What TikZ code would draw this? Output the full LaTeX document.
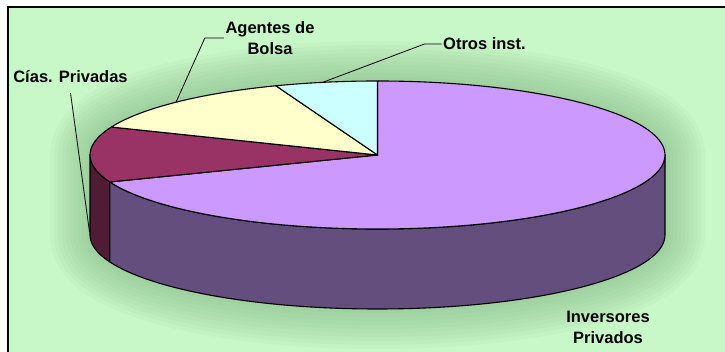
\documentclass[tikz,border=0pt]{standalone}
\usepackage{fontspec}
\setmainfont{Liberation Sans}
\usetikzlibrary{calc}
\definecolor{bg}{HTML}{C8F8C8}
\definecolor{shadowc}{HTML}{7FB07F}
\definecolor{purpletop}{HTML}{CC99FF}
\definecolor{purpleside}{HTML}{634E7E}
\definecolor{maroontop}{HTML}{993366}
\definecolor{maroonside}{HTML}{4F1B35}
\definecolor{yellowtop}{HTML}{FFFFCC}
\definecolor{cyantop}{HTML}{CCFFFF}
\begin{document}
\begin{tikzpicture}[x=1pt,y=1pt,
  lbl/.style={font=\bfseries\fontsize{16.5}{21.5}\selectfont, align=center, inner sep=1.5pt},
  lead/.style={draw=black, line width=0.8pt},
  pieedge/.style={draw=black, line width=1.1pt, line join=round},
  ell/.style={x radius=287.5, y radius=74}]
\useasboundingbox (0,0) rectangle (725,352);
\fill[white] (0,0) rectangle (725,352);
\fill[bg] (8,0) rectangle (725,345);
\draw[line width=1.4pt] (8,0) -- (8,345) -- (725,345);
\coordinate (C) at (377.5,197);
% soft shadow
\begin{scope}
\clip (8,0) rectangle (725,345);
\foreach \w in {80,72,...,8}
  \draw[shadowc, opacity=0.065, line width=\w pt, line join=round, fill=shadowc]
    ([shift={(0:287.5 and 74)}]C) arc[start angle=0,end angle=180,ell]
    -- ++(0,-80) arc[start angle=180,end angle=360,ell] -- cycle;
\end{scope}
% side faces
\path[pieedge, fill=maroonside] ([shift={(180:287.5 and 74)}]C)
  arc[start angle=180,end angle=201.4,ell] -- ++(0,-80)
  arc[start angle=201.4,end angle=180,ell] -- cycle;
\path[pieedge, fill=purpleside] ([shift={(201.4:287.5 and 74)}]C)
  arc[start angle=201.4,end angle=360,ell] -- ++(0,-80)
  arc[start angle=360,end angle=201.4,ell] -- cycle;
% top faces
\path[pieedge, fill=purpletop] (C) -- ([shift={(90:287.5 and 74)}]C)
  arc[start angle=90,end angle=-158.6,ell] -- cycle;
\path[pieedge, fill=maroontop] (C) -- ([shift={(157.8:287.5 and 74)}]C)
  arc[start angle=157.8,end angle=201.4,ell] -- cycle;
\path[pieedge, fill=yellowtop] (C) -- ([shift={(110.7:287.5 and 74)}]C)
  arc[start angle=110.7,end angle=157.8,ell] -- cycle;
\path[pieedge, fill=cyantop] (C) -- ([shift={(90:287.5 and 74)}]C)
  arc[start angle=90,end angle=110.7,ell] -- cycle;
% labels
\node[lbl] (agentes) at (270,314) {Agentes de\\Bolsa};
\node[lbl, anchor=west] (otros) at (441.5,308) {Otros inst.};
\node[lbl] (cias) at (70.5,275) {Cías. Privadas};
\node[lbl] (inv) at (608,24.5) {Inversores\\Privados};
% leader ends
\coordinate (agE) at ([shift={(134.5:287.5 and 74)}]C);
\coordinate (otE) at ([shift={(101:287.5 and 74)}]C);
\coordinate (ciE) at (89.5,120);
\draw[lead] (agentes.west) -- ++(-19,0) -- (agE);
\draw[lead] (otros.west) -- ++(-17,0) -- (otE);
\draw[lead] ([yshift=-8pt]cias.south) -- (ciE);
\end{tikzpicture}
\end{document}
